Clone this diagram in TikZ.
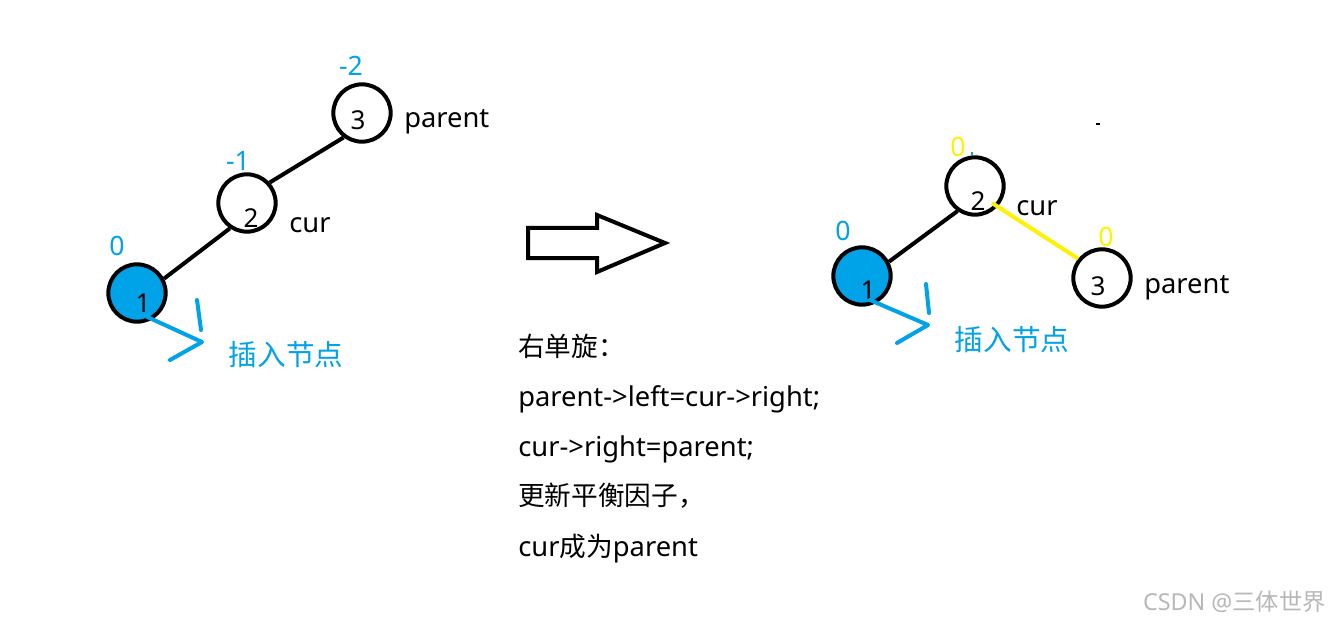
\documentclass[tikz,border=0pt]{standalone}
\usepackage{fontspec}
\setmainfont{Noto Sans}
\newfontfamily\cjk{Noto Sans CJK SC}
\usetikzlibrary{calc}
\definecolor{pblue}{RGB}{0,162,232}
\definecolor{pyellow}{RGB}{255,242,0}
\begin{document}
\begin{tikzpicture}[x=0.75pt,y=-0.75pt,
  tnode/.style={circle,draw=black,line width=3pt,minimum size=43pt,inner sep=0pt},
  filled/.style={tnode,fill=pblue},
  digit/.style={font=\fontsize{19.5}{20}\selectfont,inner sep=0pt},
  bf/.style={font=\fontsize{20}{20}\selectfont,text=pblue,inner sep=0pt},
  yf/.style={font=\fontsize{20}{20}\selectfont,text=pyellow,inner sep=0pt},
  lbl/.style={font=\fontsize{20.5}{20}\selectfont,inner sep=0pt,anchor=west},
  ins/.style={font=\cjk\fontsize{21.5}{22}\selectfont,text=pblue,inner sep=0pt},
  txt/.style={font=\fontsize{20.5}{22}\selectfont,inner sep=0pt,anchor=base west},
  cj/.style={font=\cjk\fontsize{20}{22}\selectfont,inner sep=0pt,anchor=base west},
  edge/.style={line width=3pt,black},
  yedge/.style={line width=3pt,pyellow},
  bstroke/.style={line width=3pt,pblue,line cap=round,line join=round}]
\useasboundingbox (0,0) rectangle (1332,624);
\fill[white] (0,0) rectangle (1332,624);

% ---- left tree ----
\node[tnode] (a3) at (362,113) {};
\node[tnode] (a2) at (247,203) {};
\node[filled] (a1) at (137,293) {};
\draw[edge] (a2.42) -- (a3.233);
\draw[edge] (a1.28) -- (a2.236);
\node[digit] (a3d) at (358,120) {3};
\node[digit] (a2d) at (251,218) {2};
\node[digit] (a1d) at (143,303) {1};
\node[bf] (a3b) at (351,66) {-2};
\node[bf] (a2b) at (238,161) {-1};
\node[bf] (a1b) at (117,246) {0};
\node[lbl] (a3l) at (404,122) {parent};
\node[lbl] (a2l) at (289,225) {cur};
\coordinate (as) at (143,315);
\coordinate (av) at (202,342);
\coordinate (ae) at (170,360);
\coordinate (at) at (197,300);
\coordinate (ab) at (201,330);
\draw[bstroke] (as) -- (av) -- (ae);
\draw[bstroke] (at) -- (ab);
\node[ins] (ains) at (286,355) {插入节点};

% ---- block arrow ----
\draw[line width=3pt,line join=miter] (528,228) -- (597,228) -- (597,215) -- (665,243) -- (597,272) -- (597,258) -- (528,258) -- cycle;

% ---- text ----
\node[cj] (t1) at (518,356) {右单旋：};
\node[txt] (t2) at (518,406) {parent->left=cur->right;};
\node[txt] (t3) at (518,456) {cur->right=parent;};
\node[cj] (t4) at (518,505) {更新平衡因子，};
\node[txt] (t5) at (518,556) {cur{\cjk\fontsize{20}{22}\selectfont 成为}parent};

% ---- right tree ----
\node[tnode] (b2) at (975,186) {};
\node[filled] (b1) at (862,276) {};
\node[tnode] (b3) at (1102,278) {};
\draw[edge] (b1.28) -- (b2.235);
\draw[yedge] ($(b2)+(17,17)$) -- (b3.141);
\node[digit] (b2d) at (978,201) {2};
\node[digit] (b1d) at (868,290) {1};
\node[digit] (b3d) at (1098,286) {3};
\node[yf] (b2y) at (958,147) {0};
\node[yf] (b3y) at (1106,237) {0};
\node[bf] (b1b) at (843,231) {0};
\fill[pblue] (971,152) rectangle (973,155);
\node[lbl] (b2l) at (1016,208) {cur};
\node[lbl] (b3l) at (1144,288) {parent};
\coordinate (bs) at (870,300);
\coordinate (bv) at (928,325);
\coordinate (be) at (897,343);
\coordinate (bt) at (926,284);
\coordinate (bb) at (929,313);
\draw[bstroke] (bs) -- (bv) -- (be);
\draw[bstroke] (bt) -- (bb);
\node[ins] (bins) at (1012,340) {插入节点};
\draw[line width=1pt] (1096,124) -- (1100,124);

% ---- watermark ----
\node[font=\fontsize{17.5}{18}\selectfont,text=black!28,anchor=east,inner sep=0pt] (wm) at (1326,602) {CSDN @{\cjk 三体世界}};
\end{tikzpicture}
\end{document}
